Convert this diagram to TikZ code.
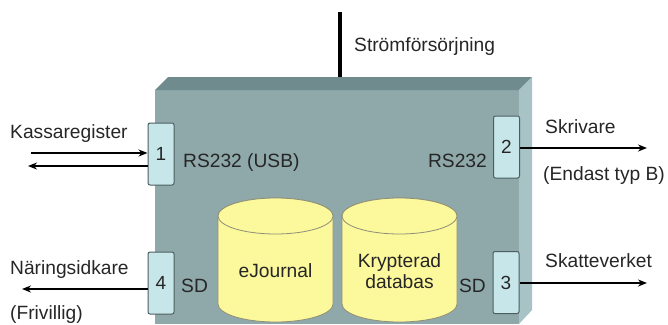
\documentclass[tikz,border=0pt]{standalone}
\usepackage{fontspec}
\setmainfont{Liberation Sans}
\usetikzlibrary{arrows.meta,calc,positioning}
\definecolor{frontface}{HTML}{8FA9AB}
\definecolor{topface}{HTML}{6F8B8D}
\definecolor{sideface}{HTML}{A7C3C5}
\definecolor{portfill}{HTML}{C6E6EA}
\definecolor{portline}{HTML}{4E5E60}
\definecolor{drumfill}{HTML}{FCF89C}
\definecolor{drumline}{HTML}{8E8E78}
\definecolor{textgray}{HTML}{262626}
\tikzset{
  port/.style={draw=portline, fill=portfill, rounded corners=2pt, line width=1pt,
    minimum width=26pt, minimum height=62pt, inner sep=0pt, text=textgray,
    font=\fontsize{19}{22}\selectfont},
  lbl/.style={inner sep=0pt, text=textgray, text height=13.8pt, text depth=3.6pt,
    font=\fontsize{19.2}{22}\selectfont},
  link/.style={-{Stealth[length=9pt,width=7pt]}, line width=1.6pt},
  drum/.style={fill=drumfill, draw=drumline, line width=0.8pt},
}

\begin{document}
\begin{tikzpicture}[x=1pt, y=-1pt]
  \useasboundingbox (0,0) rectangle (668,324);

  % Box corners
  \coordinate (fl) at (155,90);
  \coordinate (fr) at (519,90);
  \coordinate (bl) at (168,77);
  \coordinate (br) at (532,77);

  % Power supply
  \coordinate (pw) at (340,12);
  \draw[line width=4pt] (pw) -- (pw |- br);
  \node[lbl, anchor=west] (strom) at (354,46) {Strömförsörjning};

  % Box faces
  \fill[frontface] (fl) -- (fr) -- (519,324) -- (155,324) -- cycle;
  \fill[topface] (fl) -- (bl) -- (br) -- (fr) -- cycle;
  \fill[sideface] (fr) -- (br) -- (532,310) -- (519,324) -- cycle;

  % Databases
  \foreach \cx/\nm in {275.5/ej, 399.5/kd} {
    \path[drum] (\cx-57.5,216) -- (\cx-57.5,304)
      arc[start angle=180, end angle=0, x radius=57.5, y radius=18]
      -- (\cx+57.5,216)
      arc[start angle=0, end angle=-180, x radius=57.5, y radius=18] -- cycle;
    \draw[drum] (\cx,216) ellipse[x radius=57.5, y radius=18];
  }
  \node[lbl] (ejournal) at (275.5,272) {eJournal};
  \node[lbl, align=center, text height=, text depth=] (krypt) at (399.5,271)
    {Krypterad\\[-0.5pt]databas};

  % Ports
  \node[port] (p1) at (161,154) {1};
  \node[port] (p2) at (506.5,147) {2};
  \node[port] (p3) at (506,282.5) {3};
  \node[port] (p4) at (161,283) {4};

  % Port labels
  \node[lbl, anchor=west] (rsusb) at (183,162) {RS232 (USB)};
  \node[lbl, anchor=east] (rs) at (487,162) {RS232};
  \node[lbl, anchor=west] (sdl) at (181,287) {SD};
  \node[lbl, anchor=east] (sdr) at (486,287) {SD};

  % Outside labels
  \node[lbl, anchor=west] (kassa) at (10,133) {Kassaregister};
  \node[lbl, anchor=west] (skriv) at (545,128) {Skrivare};
  \node[lbl, anchor=west] (endast) at (543,175) {(Endast typ B)};
  \node[lbl, anchor=west] (naring) at (10,269) {Näringsidkare};
  \node[lbl, anchor=west] (friv) at (10,314) {(Frivillig)};
  \node[lbl, anchor=west] (skatt) at (545,262) {Skatteverket};

  % Connections
  \coordinate (kin) at (31,153);
  \coordinate (kout) at (28,166);
  \coordinate (skr) at (647,148);
  \coordinate (ska) at (647,283);
  \coordinate (nar) at (22,289);
  \draw[link] (kin) -- (kin -| p1.west);
  \draw[link] (kout -| p1.west) -- (kout);
  \draw[link] (skr -| p2.east) -- (skr);
  \draw[link] (ska -| p3.east) -- (ska);
  \draw[link] (nar -| p4.west) -- (nar);

\end{tikzpicture}
\end{document}
